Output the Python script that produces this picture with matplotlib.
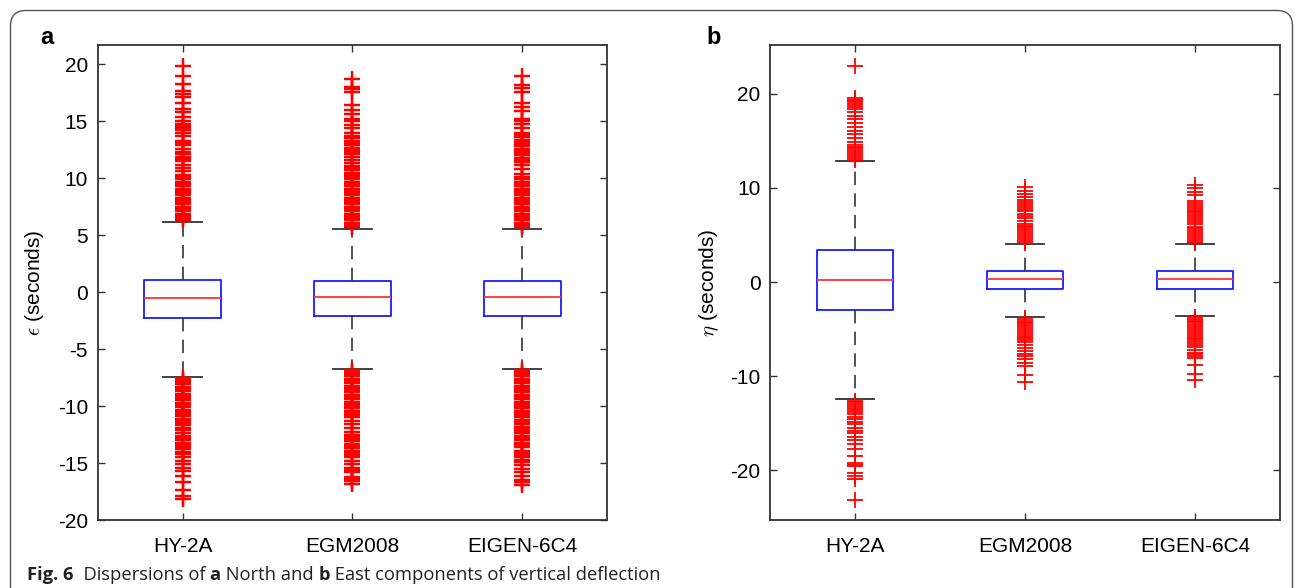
import matplotlib.pyplot as plt
from matplotlib.patches import FancyBboxPatch

plt.rcParams['font.family'] = ['Liberation Sans', 'DejaVu Sans']
plt.rcParams['mathtext.fontset'] = 'cm'

models = ['HY-2A', 'EGM2008', 'EIGEN-6C4']

# panel a: north component (seconds)
a_q1 = [-2.3, -2.05, -2.05]
a_med = [-0.48, -0.42, -0.45]
a_q3 = [1.1, 0.98, 0.98]
a_lo = [-7.45, -6.75, -6.75]
a_hi = [6.2, 5.58, 5.58]
a_out_hy = [6.3, 6.5, 6.7, 6.9, 7.1, 7.3, 7.5, 7.7, 7.9, 8.1, 8.3, 8.5, 8.7, 8.9, 9.1,
            9.3, 9.5, 9.7, 9.9, 10.1, 10.3, 10.6, 10.9, 11.2, 11.5, 11.7, 11.9, 12.1,
            12.3, 12.6, 12.9, 13.1, 13.3, 13.7, 14.0, 14.2, 14.4, 14.6, 14.8, 15.0,
            15.4, 15.8, 16.1, 16.6, 17.1, 17.4, 17.7, 18.3, 19.0, 19.9,
            -7.5, -7.7, -7.9, -8.1, -8.3, -8.5, -8.7, -8.9, -9.1, -9.3, -9.5, -9.7,
            -9.9, -10.1, -10.3, -10.5, -10.7, -10.9, -11.1, -11.3, -11.5, -11.7, -11.9,
            -12.1, -12.4, -12.6, -12.8, -13.0, -13.2, -13.4, -13.6, -13.8, -14.0, -14.2,
            -14.5, -14.8, -15.1, -15.4, -15.7, -16.1, -16.7, -17.4, -17.9, -18.2]
a_out_egm = [5.7, 5.9, 6.1, 6.3, 6.5, 6.7, 6.9, 7.1, 7.3, 7.5, 7.7, 7.9, 8.1, 8.3, 8.5,
             8.7, 8.9, 9.1, 9.3, 9.5, 9.7, 9.9, 10.1, 10.3, 10.5, 10.7, 10.9, 11.1, 11.3,
             11.6, 11.9, 12.1, 12.3, 12.5, 12.7, 12.9, 13.1, 13.3, 13.5, 13.7, 14.0,
             14.4, 14.7, 15.0, 15.2, 15.6, 16.0, 16.4, 17.6, 17.8, 18.0, 18.7,
             -6.8, -7.0, -7.2, -7.4, -7.6, -7.8, -8.0, -8.2, -8.4, -8.6, -8.8, -9.0,
             -9.2, -9.4, -9.6, -9.8, -10.0, -10.2, -10.4, -10.6, -10.8, -11.0,
             -11.3, -11.6, -11.9, -12.3, -12.5, -12.7, -12.9, -13.1, -13.3, -13.5,
             -13.7, -13.9, -14.1, -14.3, -14.5, -14.8, -15.1, -15.4, -15.6, -15.8,
             -16.2, -16.4, -16.6, -16.8]
a_out_eig = [5.7, 5.9, 6.1, 6.3, 6.5, 6.7, 6.9, 7.1, 7.3, 7.5, 7.7, 7.9, 8.1, 8.3, 8.5,
             8.7, 8.9, 9.1, 9.3, 9.5, 9.7, 9.9, 10.1, 10.4, 10.8, 11.2, 11.4, 11.6,
             11.8, 12.0, 12.2, 12.4, 12.6, 12.8, 13.0, 13.2, 13.4, 13.6, 13.8, 14.0,
             14.4, 14.8, 15.0, 15.2, 15.9, 16.3, 16.6, 17.6, 17.9, 18.2, 19.0,
             -6.8, -7.0, -7.2, -7.4, -7.6, -7.8, -8.0, -8.2, -8.4, -8.6, -8.8, -9.0,
             -9.2, -9.4, -9.6, -9.8, -10.0, -10.2, -10.4, -10.6, -10.8, -11.0, -11.2,
             -11.4, -11.6, -11.8, -12.0, -12.2, -12.4, -12.6, -12.8, -13.0, -13.2,
             -13.4, -13.6, -13.9, -14.1, -14.3, -14.5, -14.7, -14.9, -15.2, -15.5,
             -15.8, -16.1, -16.5, -16.7, -16.9]

# panel b: east component (seconds)
b_q1 = [-2.95, -0.74, -0.72]
b_med = [0.26, 0.32, 0.32]
b_q3 = [3.45, 1.21, 1.2]
b_lo = [-12.48, -3.68, -3.62]
b_hi = [12.87, 4.08, 4.02]
b_out_hy = [13.0, 13.2, 13.4, 13.6, 13.8, 14.0, 14.2, 14.4, 14.6, 14.9, 15.3, 15.7,
            16.1, 16.5, 16.9, 17.3, 17.7, 18.1, 18.4, 18.6, 18.8, 19.0, 19.2, 19.4,
            19.6, 23.0,
            -12.6, -12.8, -13.0, -13.2, -13.4, -13.6, -13.8, -14.0, -14.3, -14.6,
            -14.9, -15.1, -15.5, -15.8, -16.1, -16.5, -16.8, -17.2, -17.8, -18.5,
            -19.2, -19.4, -19.6, -20.3, -20.6, -20.9, -23.2]
b_out_egm = [4.2, 4.4, 4.6, 4.8, 5.0, 5.2, 5.4, 5.6, 5.8, 6.0, 6.2, 6.5, 6.8, 7.0,
             7.2, 7.5, 7.7, 7.9, 8.1, 8.3, 8.5, 8.7, 9.0, 9.4, 9.7, 10.1,
             -3.8, -4.0, -4.2, -4.4, -4.6, -4.8, -5.0, -5.2, -5.4, -5.6, -5.8, -6.0,
             -6.2, -6.4, -6.7, -7.0, -7.3, -7.6, -7.9, -8.2, -8.6, -8.9, -9.9, -10.6]
b_out_eig = [4.1, 4.3, 4.5, 4.7, 4.9, 5.1, 5.3, 5.5, 5.7, 5.9, 6.2, 6.4, 6.6, 6.8,
             7.0, 7.2, 7.4, 7.6, 7.8, 8.0, 8.2, 8.4, 8.6, 9.2, 9.6, 10.0, 10.3,
             -3.7, -3.9, -4.1, -4.3, -4.5, -4.7, -4.9, -5.1, -5.3, -5.5, -5.7, -5.9,
             -6.1, -6.3, -6.5, -6.7, -6.9, -7.2, -7.5, -7.7, -7.9, -8.1, -8.8, -9.8,
             -10.4]

W, H = 1295, 588
fig = plt.figure(figsize=(W / 100, H / 100), dpi=100)

# card border
card = FancyBboxPatch((10.5 / W, -20 / H), 1282 / W, (H - 10.5 + 20) / H,
                      boxstyle='round,pad=0,rounding_size=0.012',
                      transform=fig.transFigure, fill=False,
                      ec='#555555', lw=1.0, mutation_aspect=W / H)
fig.patches.append(card)


def make_stats(q1, med, q3, lo, hi, outs):
    stats = []
    for i in range(3):
        stats.append(dict(q1=q1[i], med=med[i], q3=q3[i], whislo=lo[i],
                          whishi=hi[i], fliers=outs[i], label=models[i]))
    return stats


def draw_panel(ax, stats, ylim, yticks, ylabel, mew):
    ax.bxp(stats, positions=[1, 2, 3], widths=0.45, showfliers=True,
           boxprops=dict(color='#1a1aff', lw=1.3),
           medianprops=dict(color='#ff3333', lw=1.3),
           whiskerprops=dict(color='#333333', lw=1.2, linestyle=(0, (8, 5))),
           capprops=dict(color='#333333', lw=1.3),
           capwidths=0.225,
           flierprops=dict(marker='+', markeredgecolor='red', markersize=11,
                           markeredgewidth=mew, linestyle='none'))
    ax.set_xlim(0.5, 3.5)
    ax.set_ylim(*ylim)
    ax.set_yticks(yticks)
    ax.set_yticklabels([str(t) for t in yticks])
    ax.set_xticks([1, 2, 3])
    ax.set_xticklabels(models)
    ax.tick_params(direction='in', top=True, right=True, length=5, width=1,
                   color='#333333', labelsize=15, pad=7)
    ax.tick_params(axis='x', pad=12)
    for s in ax.spines.values():
        s.set_color('#333333')
        s.set_linewidth(1.3)
    ax.set_ylabel(ylabel, fontsize=15)


ax1 = fig.add_axes([97.6 / W, 68 / H, 509.7 / W, 475 / H])
draw_panel(ax1, make_stats(a_q1, a_med, a_q3, a_lo, a_hi,
                           [a_out_hy, a_out_egm, a_out_eig]),
           (-20, 21.7), [-20, -15, -10, -5, 0, 5, 10, 15, 20],
           r'$\epsilon$ (seconds)', 1.75)
ax1.yaxis.set_label_coords(-0.101, 0.5)

ax2 = fig.add_axes([770.3 / W, 68 / H, 509.7 / W, 475 / H])
draw_panel(ax2, make_stats(b_q1, b_med, b_q3, b_lo, b_hi,
                           [b_out_hy, b_out_egm, b_out_eig]),
           (-25.3, 25.2), [-20, -10, 0, 10, 20], r'$\eta$ (seconds)', 1.3)
ax2.yaxis.set_label_coords(-0.097, 0.5)

fig.text(47 / W, 1 - 37 / H, 'a', fontsize=17, fontweight='bold',
         ha='center', va='center')
fig.text(714 / W, 1 - 37 / H, 'b', fontsize=17, fontweight='bold',
         ha='center', va='center')

# caption with mixed bold / regular pieces
pieces = [('Fig. 6', 'bold'), ('  Dispersions of ', 'normal'), ('a', 'bold'),
          (' North and ', 'normal'), ('b', 'bold'),
          (' East components of vertical deflection', 'normal')]
fig.canvas.draw()
renderer = fig.canvas.get_renderer()
x = 27 / W
for txt, wt in pieces:
    t = fig.text(x, 1 - 575 / H, txt, fontsize=13.2, fontweight=wt,
                 family='Open Sans', ha='left', va='center', color='#222222')
    bb = t.get_window_extent(renderer)
    x += bb.width / W

fig.savefig('out.png', dpi=100)
